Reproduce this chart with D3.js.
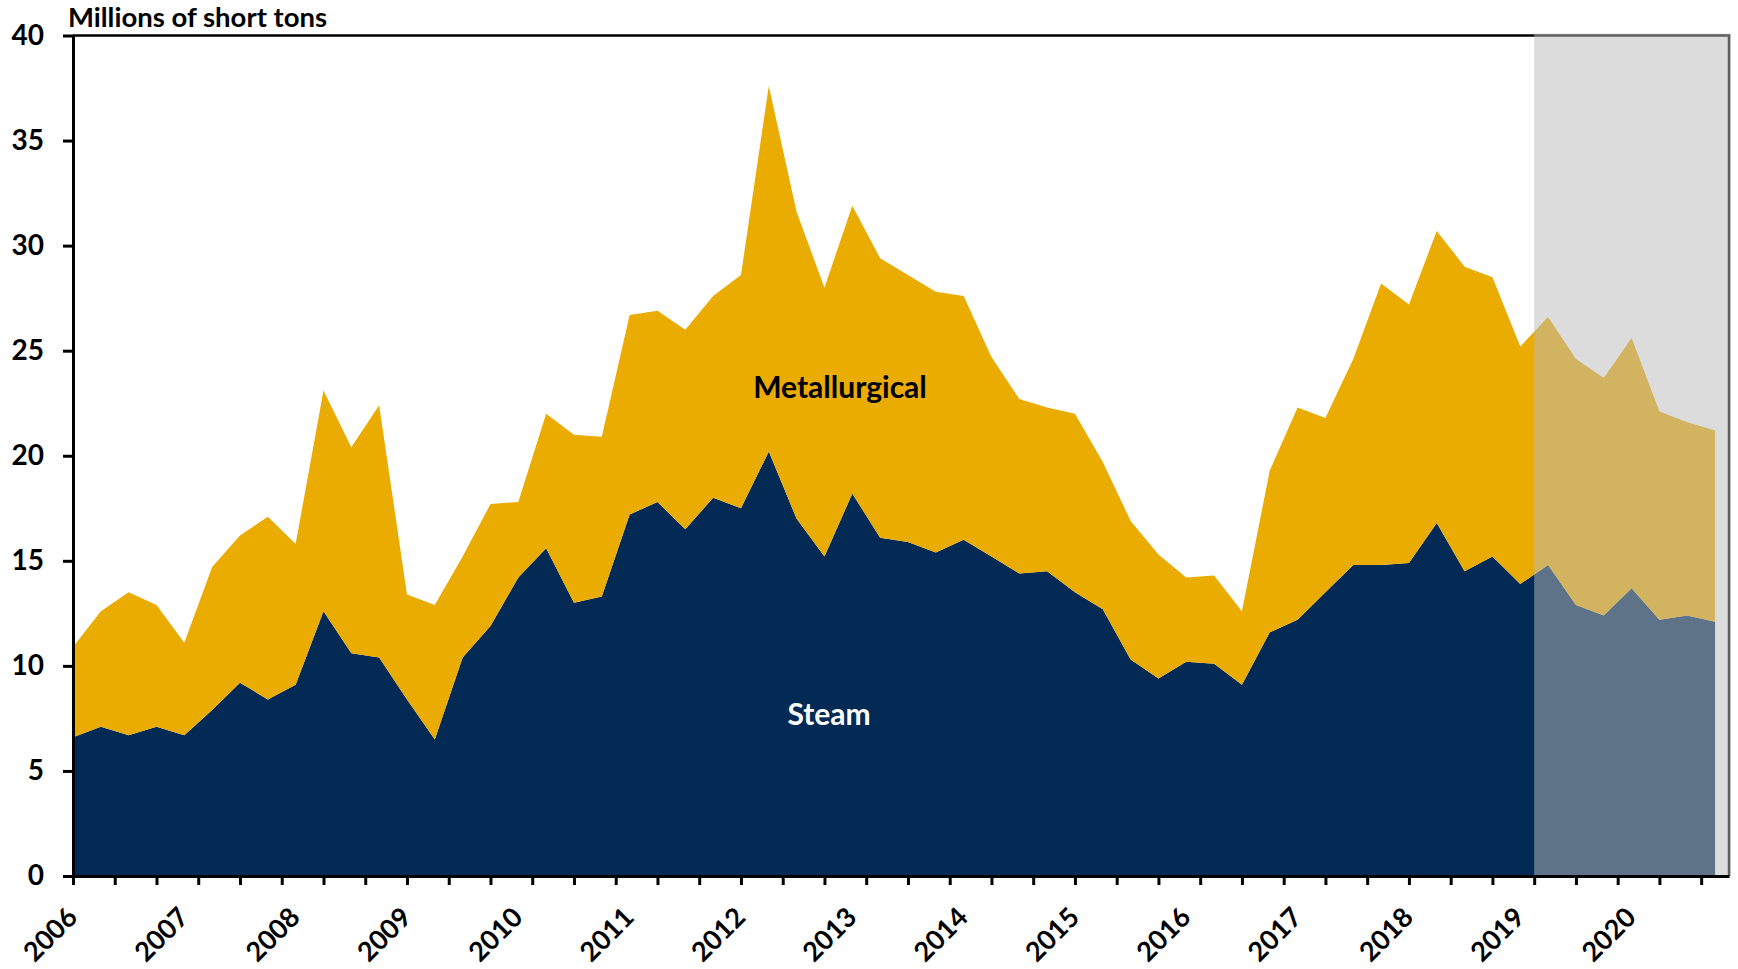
<!DOCTYPE html>
<html>
<head>
<meta charset="utf-8">
<script src="https://cdn.jsdelivr.net/npm/d3@7/dist/d3.min.js"></script>
<style>
  body { margin: 0; background: #fff; }
  svg text { font-family: Lato, "Open Sans", sans-serif; font-weight: bold; fill: #000; }
</style>
</head>
<body>
<div id="chart"></div>
<script>
// quarterly, 2006Q1 - 2020Q4, millions of short tons
const years = [2006, 2007, 2008, 2009, 2010, 2011, 2012, 2013, 2014, 2015, 2016, 2017, 2018, 2019, 2020];
const steam = [
  6.6, 7.1, 6.7, 7.1, 6.7, 7.9, 9.2, 8.4, 9.1, 12.6, 10.6, 10.4, 8.4, 6.5, 10.4, 11.9,
  14.2, 15.6, 13.0, 13.3, 17.2, 17.8, 16.5, 18.0, 17.5, 20.2, 17.0, 15.2, 18.2, 16.1,
  15.9, 15.4, 16.0, 15.2, 14.4, 14.5, 13.5, 12.7, 10.3, 9.4, 10.2, 10.1, 9.1, 11.6,
  12.2, 13.5, 14.8, 14.8, 14.9, 16.8, 14.5, 15.2, 13.9, 14.8, 12.9, 12.4, 13.7, 12.2,
  12.4, 12.1
];
const metallurgical = [
  4.3, 5.5, 6.8, 5.8, 4.4, 6.8, 7.0, 8.7, 6.7, 10.5, 9.8, 12.0, 5.0, 6.4, 4.8, 5.8,
  3.6, 6.4, 8.0, 7.6, 9.5, 9.1, 9.5, 9.6, 11.1, 17.4, 14.6, 12.8, 13.7, 13.3,
  12.7, 12.4, 11.6, 9.5, 8.3, 7.8, 8.5, 7.0, 6.6, 5.9, 4.0, 4.2, 3.5, 7.7,
  10.1, 8.3, 9.8, 13.4, 12.3, 13.9, 14.5, 13.3, 11.3, 11.8, 11.7, 11.3, 11.9, 9.9,
  9.2, 9.1
];
const yTicks = [0, 5, 10, 15, 20, 25, 30, 35, 40];

const W = 1738, H = 969;
const margin = {top: 35.5, right: 9, bottom: 93, left: 73};

const svg = d3.select('#chart').append('svg')
  .attr('width', W)
  .attr('height', H);

// x in quarters since 2006Q1
const x = d3.scaleLinear()
  .domain([0, 59.5])
  .range([margin.left, W - margin.right]);
const y = d3.scaleLinear()
  .domain([0, 40])
  .range([H - margin.bottom, margin.top]);

const table = steam.map((s, i) => ({i: i, steam: s, metallurgical: metallurgical[i]}));
const series = d3.stack().keys(['steam', 'metallurgical'])(table);
const colors = {steam: '#022a54', metallurgical: '#eaac00'};

const area = d3.area()
  .x(d => x(d.data.i))
  .y0(d => y(d[0]))
  .y1(d => y(d[1]));

svg.append('g')
  .selectAll('path')
  .data(series)
  .join('path')
  .attr('d', area)
  .attr('fill', d => colors[d.key]);

// frame top + right
svg.append('path')
  .attr('d', `M${x(0)},${y(40)}H${x(59.5)}V${y(0)}`)
  .attr('fill', 'none')
  .attr('stroke', '#000')
  .attr('stroke-width', 2.5);

// shaded forecast period
svg.append('rect')
  .attr('x', x(52.5))
  .attr('y', y(40) - 2)
  .attr('width', x(59.5) - x(52.5) + 2)
  .attr('height', y(0) - y(40) + 2)
  .attr('fill', 'rgb(186,186,186)')
  .attr('fill-opacity', 0.51);

// axes
const xAxis = d3.axisBottom(x)
  .tickValues(d3.range(0, 59.5, 1.5))
  .tickSize(9)
  .tickSizeOuter(0)
  .tickFormat('');
const xg = svg.append('g')
  .attr('transform', `translate(0,${y(0)})`)
  .call(xAxis);
xg.select('.domain').attr('stroke-width', 3);
xg.selectAll('.tick line').attr('stroke-width', 3);

svg.append('g')
  .selectAll('text')
  .data(years)
  .join('text')
  .attr('transform', (d, k) => `translate(${x(k * 4) + 6},919) rotate(-45)`)
  .attr('text-anchor', 'end')
  .style('font-size', '27px')
  .text(d => d);

const yAxis = d3.axisLeft(y)
  .tickValues(yTicks)
  .tickSize(10)
  .tickPadding(19)
  .tickSizeOuter(0);
const yg = svg.append('g')
  .attr('transform', `translate(${x(0)},0)`)
  .call(yAxis);
yg.select('.domain').attr('stroke-width', 3);
yg.selectAll('.tick line').attr('stroke-width', 3);
yg.selectAll('.tick text')
  .style('font-size', '28px')
  .attr('fill', '#000')
  .style('font-family', 'Lato, sans-serif');

svg.append('text')
  .attr('x', 68)
  .attr('y', 27)
  .style('font-size', '27.5px')
  .text('Millions of short tons');

svg.append('text')
  .attr('x', 840)
  .attr('y', 398)
  .attr('text-anchor', 'middle')
  .style('font-size', '30px')
  .text('Metallurgical');

svg.append('text')
  .attr('x', 829)
  .attr('y', 725)
  .attr('text-anchor', 'middle')
  .style('font-size', '30px')
  .style('fill', '#fff')
  .text('Steam');
</script>
</body>
</html>
